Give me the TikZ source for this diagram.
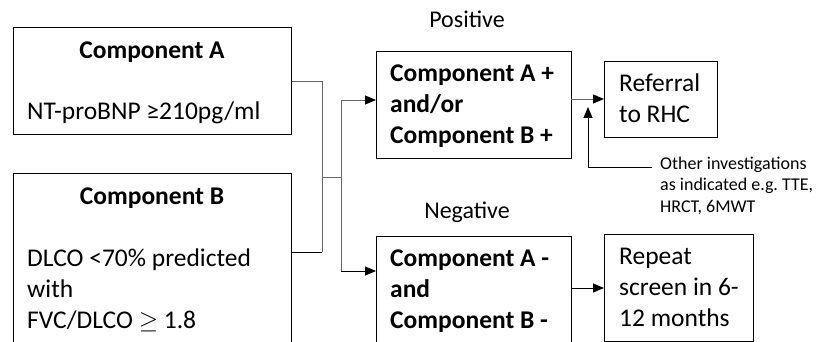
\documentclass[tikz,border=0pt]{standalone}
\usepackage{fontspec}
\setmainfont{Carlito}
\usetikzlibrary{arrows.meta}

\begin{document}
\frenchspacing
\begin{tikzpicture}[x=1pt,y=-1pt,
  box/.style={draw,line width=1.3pt,inner sep=0pt,anchor=north west},
  boxtext/.style={anchor=base west,inner sep=0pt,align=left,font=\fontsize{25.5}{31}\selectfont},
  conn/.style={draw=black!60,line width=0.9pt},
  tip/.style={-{Triangle[length=11pt,width=9pt,color=black]},draw=black!60,line width=0.9pt}]
\useasboundingbox (0,0) rectangle (827,342);
\clip (0,0) rectangle (827,342);
% boxes
\node[box,minimum width=278pt,minimum height=107pt] (compA) at (13,27) {};
\node[box,minimum width=278pt,minimum height=200pt] (compB) at (13,173) {};
\node[box,minimum width=195pt,minimum height=107pt] (pos) at (376,51) {};
\node[box,minimum width=195pt,minimum height=110pt] (neg) at (376,236) {};
\node[box,minimum width=113pt,minimum height=76pt] (refer) at (604,61) {};
\node[box,minimum width=149pt,minimum height=107pt] (repeat) at (604,234) {};
% texts (multi-line ones sit on their last baseline)
\node[boxtext,anchor=base] (compAtitle) at (152,59) {\textbf{Component A}};
\node[boxtext] (compAtext) at (27,120) {NT-proBNP ≥210pg/ml};
\node[boxtext,anchor=base] (compBtitle) at (152,204) {\textbf{Component B}};
\node[boxtext] (compBtext) at (27,328) {DLCO <70\% predicted\\with\\FVC/DLCO $\geq$ 1.8};
\node[boxtext] (postext) at (390,143) {\bfseries Component A +\\\bfseries and/or\\\bfseries Component B +};
\node[boxtext] (negtext) at (390,328) {\bfseries Component A -\\\bfseries and\\\bfseries Component B -};
\node[boxtext] (refertext) at (619,123) {Referral\\to RHC};
\node[boxtext] (repeattext) at (619,326) {Repeat\\screen in 6-\\12 months};
\node[anchor=base,inner sep=0pt,font=\fontsize{24}{28}\selectfont] (poslabel) at (467,28) {Positive};
\node[anchor=base,inner sep=0pt,font=\fontsize{24}{28}\selectfont] (neglabel) at (467,218) {Negative};
\node[anchor=base west,inner sep=0pt,align=left,font=\fontsize{18}{21.5}\selectfont] (other) at (660,212) {Other investigations\\as indicated e.g. TTE,\\HRCT, 6MWT};
% connectors
\coordinate (joinA) at (322,81);
\coordinate (joinB) at (322,252);
\coordinate (mid) at (322,177);
\coordinate (split) at (341,177);
\coordinate (up) at (341,100);
\coordinate (down) at (341,271);
\coordinate (posout) at (571,99);
\coordinate (negout) at (571,288);
\coordinate (otherend) at (652,167);
\coordinate (othertip) at (588,107);
\draw[conn] (compA.east |- joinA) -- (joinA) -- (joinB);
\draw[line width=0.9pt] (joinB) -- (compB.east |- joinB);
\draw[conn] (mid) -- (split);
\draw[conn] (up) -- (down);
\draw[tip] (up) -- (up -| pos.west);
\draw[tip,draw=black] (down) -- (down -| neg.west);
\draw[tip] (posout) -- (posout -| refer.west);
\draw[tip,draw=black] (negout) -- (negout -| repeat.west);
\draw[tip,draw=black] (otherend) -| (othertip);
\end{tikzpicture}
\end{document}
